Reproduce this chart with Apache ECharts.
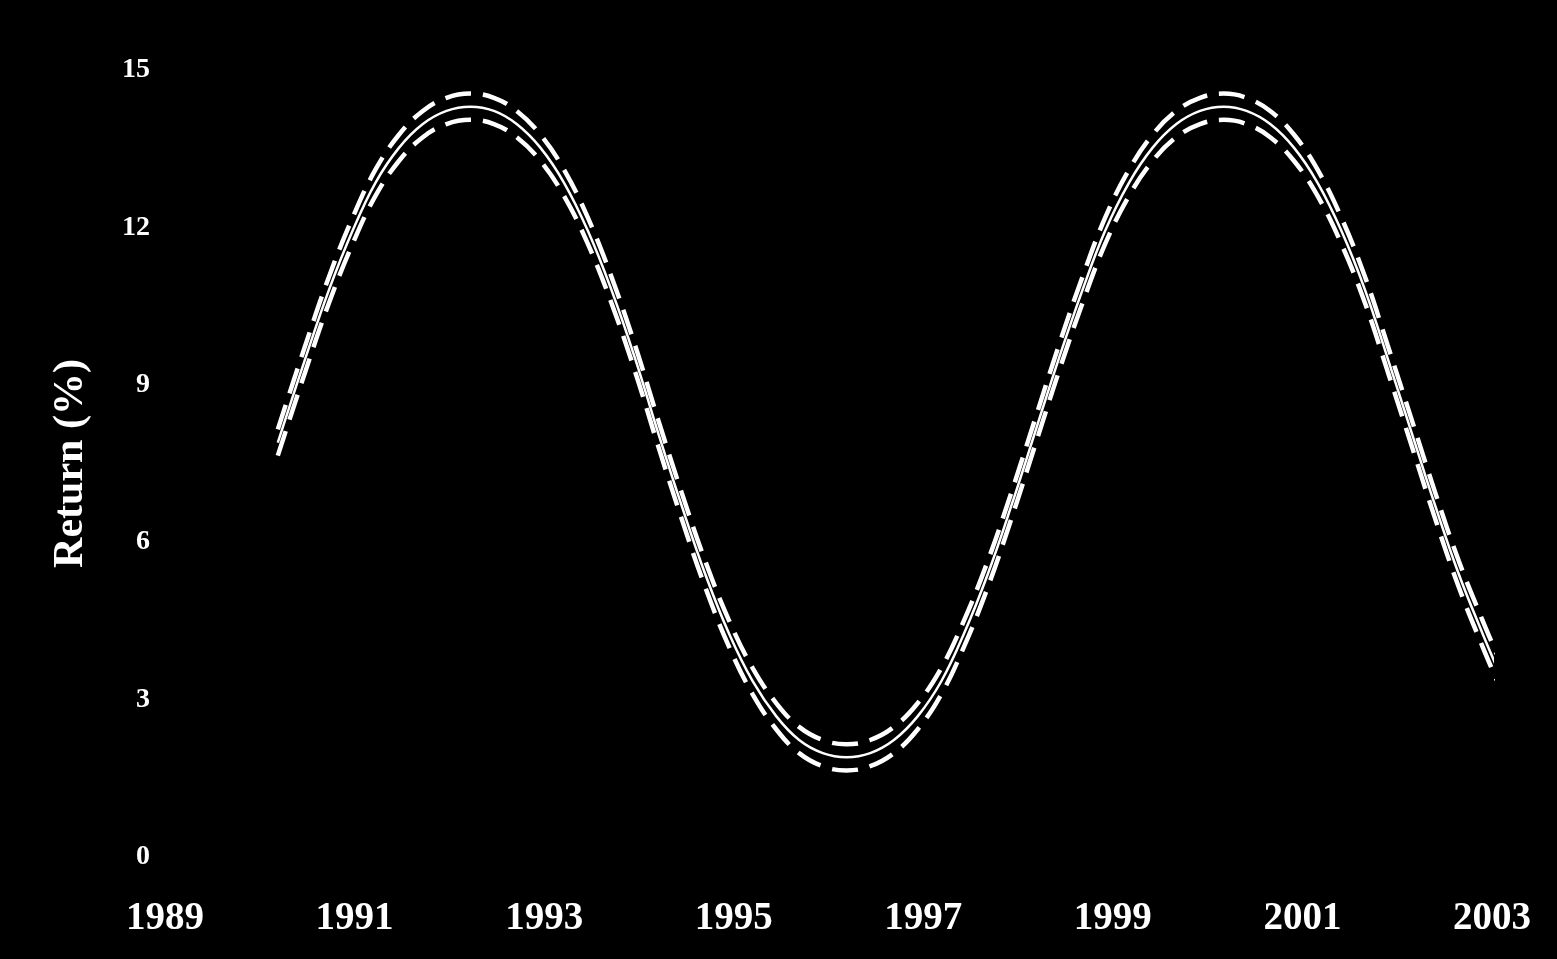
<!DOCTYPE html>
<html>
<head>
<meta charset="utf-8">
<script src="https://cdn.jsdelivr.net/npm/echarts@6/dist/echarts.min.js"></script>
<style>
html,body{margin:0;padding:0;background:#000;}
#chart{width:1557px;height:959px;}
</style>
</head>
<body>
<div id="chart"></div>
<script>
const years = [1990.19,1990.48,1990.73,1990.98,1991.22,1991.47,1991.72,1991.97,1992.22,1992.47,1992.71,1992.96,1993.21,1993.46,1993.71,1993.96,1994.20,1994.45,1994.70,1994.95,1995.20,1995.45,1995.69,1995.94,1996.19,1996.44,1996.69,1996.94,1997.19,1997.43,1997.68,1997.93,1998.18,1998.43,1998.68,1998.92,1999.17,1999.42,1999.67,1999.92,2000.17,2000.41,2000.66,2000.91,2001.16,2001.41,2001.66,2001.90,2002.15,2002.40,2002.65,2002.90,2003.05];
const returnMid = [7.90,9.50,10.81,11.94,12.85,13.52,13.97,14.22,14.30, 14.22,13.97,13.52,12.85,11.94,10.81,9.50,8.10, 6.70,5.39,4.26,3.35,2.68,2.23,1.98,1.90, 1.98,2.23,2.68,3.35,4.26,5.39,6.70,8.10, 9.50,10.81,11.94,12.85,13.52,13.97,14.22,14.30, 14.22,13.97,13.52,12.85,11.94,10.81,9.50,8.10, 6.70,5.39,4.26, 3.62];
const returnUpper = [8.15,9.75,11.06,12.19,13.10,13.77,14.22,14.47,14.55, 14.47,14.22,13.77,13.10,12.19,11.06,9.75,8.35, 6.95,5.64,4.51,3.60,2.93,2.48,2.23,2.15, 2.23,2.48,2.93,3.60,4.51,5.64,6.95,8.35, 9.75,11.06,12.19,13.10,13.77,14.22,14.47,14.55, 14.47,14.22,13.77,13.10,12.19,11.06,9.75,8.35, 6.95,5.64,4.51, 3.87];
const returnLower = [7.65,9.25,10.56,11.69,12.60,13.27,13.72,13.97,14.05, 13.97,13.72,13.27,12.60,11.69,10.56,9.25,7.85, 6.45,5.14,4.01,3.10,2.43,1.98,1.73,1.65, 1.73,1.98,2.43,3.10,4.01,5.14,6.45,7.85, 9.25,10.56,11.69,12.60,13.27,13.72,13.97,14.05, 13.97,13.72,13.27,12.60,11.69,10.56,9.25,7.85, 6.45,5.14,4.01, 3.37];
const yTicks = [0, 3, 6, 9, 12, 15];
const xTicks = [1989, 1991, 1993, 1995, 1997, 1999, 2001, 2003];
const yTitle = 'Return (%)';

const pair = arr => years.map((y, i) => [y, arr[i]]);
const font = '"Liberation Serif", "Times New Roman", serif';

const chart = echarts.init(document.getElementById('chart'));
chart.setOption({
  backgroundColor: '#000',
  animation: false,
  grid: { left: 165, right: 65, top: 70, bottom: 102 },
  xAxis: {
    type: 'value', min: xTicks[0], max: xTicks[xTicks.length - 1], interval: 2,
    axisLine: { show: false }, axisTick: { show: false }, splitLine: { show: false },
    axisLabel: { color: '#fff', fontFamily: font, fontWeight: 'bold', fontSize: 39, margin: 42,
      formatter: v => String(v) }
  },
  yAxis: {
    type: 'value', min: yTicks[0], max: yTicks[yTicks.length - 1], interval: 3,
    axisLine: { show: false }, axisTick: { show: false }, splitLine: { show: false },
    axisLabel: { color: '#fff', fontFamily: font, fontWeight: 'bold', fontSize: 28, margin: 15 },
    name: yTitle, nameLocation: 'middle', nameGap: 73, nameRotate: 90,
    nameTextStyle: { color: '#fff', fontFamily: font, fontWeight: 'bold', fontSize: 42 }
  },
  series: [
    { type: 'line', data: pair(returnMid), smooth: 0.4, showSymbol: false,
      lineStyle: { color: '#fff', width: 2.5 } },
    { type: 'line', data: pair(returnUpper), smooth: 0.4, showSymbol: false,
      lineStyle: { color: '#fff', width: 4.5, type: [26, 12] } },
    { type: 'line', data: pair(returnLower), smooth: 0.4, showSymbol: false,
      lineStyle: { color: '#fff', width: 4.5, type: [26, 12] } }
  ]
});
</script>
</body>
</html>
